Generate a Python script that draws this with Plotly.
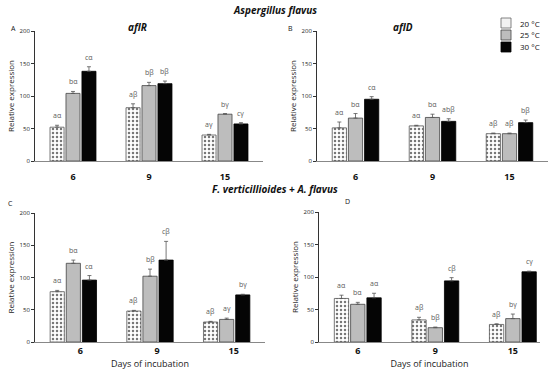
import plotly.graph_objects as go

days = ["6", "9", "15"]
temps = ["20 °C", "25 °C", "30 °C"]

# Panel A: aflR (A. flavus)
A_vals = [[52, 82, 40], [104, 116, 72], [138, 119, 57]]
A_err = [[3, 6, 1], [3, 5, 1], [7, 4, 2]]
A_lab = [["aα", "aβ", "aγ"], ["bα", "bβ", "bγ"], ["cα", "bβ", "cγ"]]
# Panel B: aflD (A. flavus)
B_vals = [[51, 54, 42], [66, 67, 42], [95, 61, 59]]
B_err = [[9, 1, 1], [7, 5, 1], [4, 4, 4]]
B_lab = [["aα", "aα", "aβ"], ["bα", "bα", "aβ"], ["cα", "abβ", "bβ"]]
# Panel C: aflR (F. verticillioides + A. flavus)
C_vals = [[78, 48, 31], [122, 102, 35], [96, 127, 73]]
C_err = [[2, 1, 1], [5, 11, 2], [7, 29, 1]]
C_lab = [["aα", "aβ", "aβ"], ["bα", "bβ", "aγ"], ["cα", "cβ", "bγ"]]
# Panel D: aflD (F. verticillioides + A. flavus)
D_vals = [[67, 34, 27], [58, 22, 36], [68, 94, 108]]
D_err = [[5, 4, 1], [3, 1, 7], [7, 5, 1]]
D_lab = [["aα", "aβ", "aβ"], ["bα", "bβ", "bγ"], ["aα", "cβ", "cγ"]]

FONT = "Open Sans"
W, H = 550, 373
BARGAP = 0.37

def px(x):
    return x / W

def py(y):
    return 1 - y / H

fig = go.Figure()

panels = [
    ("", A_vals, A_err, A_lab),
    ("2", B_vals, B_err, B_lab),
    ("3", C_vals, C_err, C_lab),
    ("4", D_vals, D_err, D_lab),
]

styles = [
    dict(color="white", line=dict(color="#555555", width=0.8),
         pattern=dict(shape=".", fgcolor="#777777", bgcolor="white", size=4, solidity=0.3)),
    dict(color="#bdbdbd", line=dict(color="#444444", width=0.8)),
    dict(color="#050505", line=dict(color="#000000", width=0.8)),
]

annotations = []
for suf, vals, errs, labs in panels:
    for t in range(3):
        fig.add_trace(go.Bar(
            x=days, y=vals[t], name=temps[t], showlegend=False,
            marker=styles[t], hoverinfo="skip",
            error_y=dict(type="data", array=errs[t], arrayminus=[0] * 3,
                         symmetric=False, color="#555555", thickness=0.8, width=2),
            xaxis="x" + suf, yaxis="y" + suf,
        ))
        slot = (1 - BARGAP) / 3
        for i in range(3):
            annotations.append(dict(
                x=i + (t - 1) * slot, y=vals[t][i] + errs[t][i],
                xref="x" + suf, yref="y" + suf, text=labs[t][i],
                showarrow=False, yanchor="bottom", yshift=3,
                font=dict(family=FONT, size=7, color="#5a5a5a"),
            ))

def yax(dom, anchor):
    return dict(domain=dom, anchor=anchor, range=[0, 200], tickvals=[0, 50, 100, 150, 200],
                ticks="outside", ticklen=3, tickwidth=0.8, tickcolor="#333",
                showline=True, linecolor="#333", linewidth=0.8, showgrid=False,
                zeroline=False, automargin=False,
                tickfont=dict(family=FONT, size=6, color="#222"),
                title=dict(text="Relative expression", standoff=3,
                           font=dict(family=FONT, size=8, color="#222")))

def xax(dom, anchor, rng, title=None, shift=0, standoff=7):
    d = dict(domain=dom, anchor=anchor, type="category", range=rng,
             showline=True, linecolor="#888888", linewidth=1, ticks="",
             showgrid=False, zeroline=False, automargin=False,
             ticklabelstandoff=standoff, ticklabelshift=shift,
             tickfont=dict(family=FONT, size=9, color="#111", weight="bold"))
    if title:
        d["title"] = dict(text=title, standoff=1,
                          font=dict(family=FONT, size=9, color="#222"))
    return d

fig.update_layout(
    template="none",
    width=W, height=H, margin=dict(l=0, r=0, t=0, b=0),
    plot_bgcolor="white", paper_bgcolor="white",
    barmode="group", bargap=BARGAP, bargroupgap=0.12,
    showlegend=False,
    xaxis=xax([px(35), px(263)], "y", [-0.5, 2.5]),
    yaxis=yax([py(161), py(31)], "x"),
    xaxis2=xax([px(317), px(548)], "y2", [-0.5, 2.5]),
    yaxis2=yax([py(161), py(31)], "x2"),
    xaxis3=xax([px(35), px(265)], "y3", [-0.5, 2.5], "Days of incubation", 7, 0),
    yaxis3=yax([py(342), py(213)], "x3"),
    xaxis4=xax([px(319), px(540)], "y4", [-0.5, 2.35], "Days of incubation", 0, 0),
    yaxis4=yax([py(342), py(212)], "x4"),
)

def txt(x, y, s, size, bold=True, italic=False, xanchor="center", color="#111"):
    if italic:
        s = "<i>" + s + "</i>"
    if bold:
        s = "<b>" + s + "</b>"
    annotations.append(dict(x=px(x), y=py(y), xref="paper", yref="paper", text=s,
                            showarrow=False, xanchor=xanchor, yanchor="middle",
                            font=dict(family=FONT, size=size, color=color)))

txt(275, 10, "Aspergillus flavus", 10, italic=True)
txt(137, 27, "aflR", 10, italic=True)
txt(403, 27, "aflD", 10, italic=True)
txt(275, 189, "F. verticillioides + A. flavus", 10, italic=True)
txt(13, 28, "A", 7, bold=False)
txt(290, 28, "B", 7, bold=False)
txt(10, 203, "C", 7, bold=False)
txt(347, 201, "D", 7, bold=False)

# Manual legend (swatches + labels) in the top-right corner
legend_fill = ["#f2f2f2", "#bdbdbd", "#050505"]
legend_line = ["#666666", "#444444", "#000000"]
shapes = []
for k, name in enumerate(temps):
    yc = 23 + 12 * k
    shapes.append(dict(type="rect", xref="paper", yref="paper",
                       x0=px(501), x1=px(511), y0=py(yc + 5), y1=py(yc - 5),
                       fillcolor=legend_fill[k], line=dict(color=legend_line[k], width=0.8)))
    txt(518, yc, name, 8, bold=False, xanchor="left")

fig.update_layout(annotations=annotations, shapes=shapes)
fig.write_html("out.html", config={"displayModeBar": False},
               post_script="document.body.style.margin='0';document.body.style.overflow='hidden';")
